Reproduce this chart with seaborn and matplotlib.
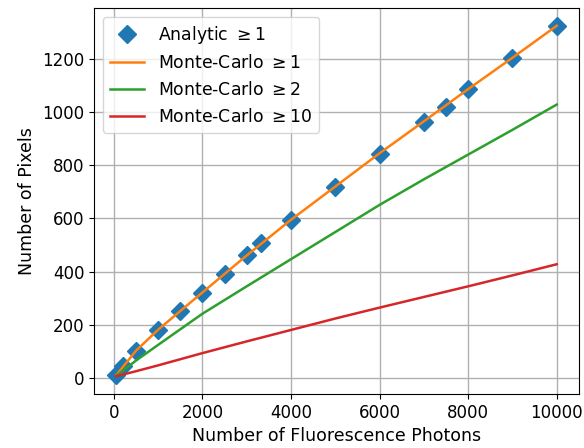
import numpy as np
import pandas as pd
import matplotlib
matplotlib.use("Agg")
import matplotlib.pyplot as plt
import seaborn as sns

# Analytic expectation of pixels hit at least once
analytic_photons = [50, 200, 500, 1000, 1500, 2000, 2500, 3000, 3333, 4000,
                    5000, 6000, 7000, 7500, 8000, 9000, 10000]
analytic_pixels = [12, 45, 102, 180, 253, 321, 393, 462, 509, 594,
                   720, 844, 964, 1020, 1085, 1203, 1322]

# Monte-Carlo simulation results
mc_photons = [50, 500, 1000, 2000, 3000, 4000, 5000, 6000, 7000, 8000, 9000, 10000]
mc_ge1 = [10, 103, 182, 322, 461, 595, 720, 845, 965, 1086, 1204, 1324]
mc_ge2 = [8, 66, 125, 242, 345, 447, 549, 651, 747, 840, 933, 1028]
mc_ge10 = [7, 26, 48, 94, 138, 181, 224, 265, 305, 345, 386, 428]

labels = [r"Analytic $\geq 1$", r"Monte-Carlo $\geq 1$",
          r"Monte-Carlo $\geq 2$", r"Monte-Carlo $\geq 10$"]
colors = sns.color_palette("tab10", 4)

plt.rcParams["font.size"] = 12

fig = plt.figure(figsize=(5.84, 4.48), dpi=100)
ax = fig.add_axes([0.161, 0.121, 0.830, 0.8605])

sns.lineplot(x=analytic_photons, y=analytic_pixels, ax=ax, color=colors[0],
             marker="D", linestyle="", markersize=9, mec=colors[0], mew=1.0,
             label=labels[0])
for ys, lab, col in zip([mc_ge1, mc_ge2, mc_ge10], labels[1:], colors[1:]):
    sns.lineplot(x=mc_photons, y=ys, ax=ax, color=col, linewidth=1.8, label=lab)

ax.grid(True, color="#b0b0b0", linewidth=1.0)
ax.set_axisbelow(True)
ax.set_xlabel("Number of Fluorescence Photons", fontsize=12.5)
ax.set_ylabel("Number of Pixels", fontsize=12.5)
ax.legend(loc="upper left", fontsize=12.4)

fig.savefig("out.png", dpi=100)
